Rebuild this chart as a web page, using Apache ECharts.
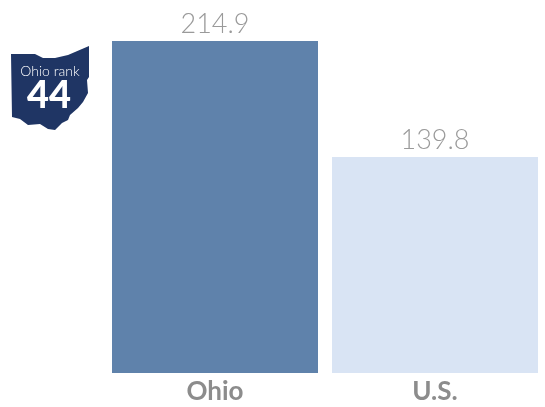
<!DOCTYPE html>
<html>
<head>
<meta charset="utf-8">
<style>
  html, body { margin: 0; padding: 0; background: #fff; }
  #chart { width: 545px; height: 407px; }
</style>
<script src="https://cdn.jsdelivr.net/npm/echarts@6/dist/echarts.min.js"></script>
</head>
<body>
<div id="chart"></div>
<script>
const categories = ["Ohio", "U.S."];
const rates = [214.9, 139.8];
const barColors = ["#5f82ab", "#d9e4f4"];
const rankLabel = "Ohio rank";
const rankValue = "44";

// outline of the state badge, px
const ohioShape = [
  [11, 54], [35, 54], [43, 58], [55, 58], [68, 55], [89, 46], [89, 77], [87, 80],
  [88, 93], [83, 102], [78, 108], [70, 115], [68, 120], [62, 123], [55, 130],
  [48, 129], [40, 124], [28, 125], [20, 119], [12, 117]
];

const chart = echarts.init(document.getElementById("chart"));
chart.setOption({
  animation: false,
  grid: { left: 105, right: -20, top: 41, bottom: 34 },
  xAxis: {
    type: "category",
    data: categories,
    axisLine: { show: false },
    axisTick: { show: false },
    axisLabel: {
      color: "#8c8c8c",
      fontFamily: "Lato",
      fontWeight: "bold",
      fontSize: 26,
      margin: 6,
    },
  },
  yAxis: { type: "value", min: 0, max: 214.9, show: false },
  series: [
    {
      type: "bar",
      barWidth: 206,
      data: rates.map((v, i) => ({ value: v, itemStyle: { color: barColors[i] } })),
      label: {
        show: true,
        position: "top",
        distance: 3,
        color: "#9a9a9a",
        fontFamily: "Lato",
        fontWeight: 300,
        fontSize: 27,
        formatter: (p) => p.value.toFixed(1),
      },
    },
  ],
  graphic: [
    {
      type: "polygon",
      shape: { points: ohioShape },
      style: { fill: "#1f3564" },
    },
    {
      type: "text",
      x: 50,
      y: 71,
      style: {
        text: rankLabel,
        fill: "#fff",
        font: "300 14px Lato",
        textAlign: "center",
        textVerticalAlign: "middle",
      },
    },
    {
      type: "text",
      x: 49,
      y: 96,
      style: {
        text: rankValue,
        fill: "#fff",
        font: "900 38px Lato",
        textAlign: "center",
        textVerticalAlign: "middle",
      },
    },
  ],
});
</script>
</body>
</html>
